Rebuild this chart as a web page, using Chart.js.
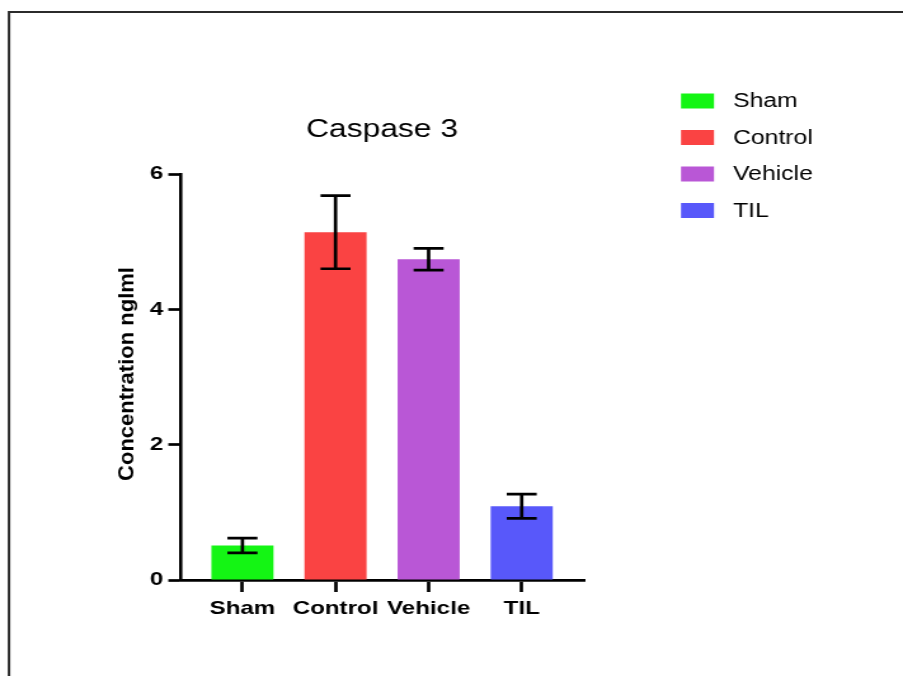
<!DOCTYPE html>
<html>
<head>
<meta charset="utf-8">
<title>Caspase 3</title>
<script src="https://cdn.jsdelivr.net/npm/chart.js@4/dist/chart.umd.min.js"></script>
<style>
  html, body { margin: 0; padding: 0; background: #fff; overflow: hidden; }
  #wrap { width: 903px; height: 676px; position: relative; }
  /* the drawing is laid out on a narrower canvas and shown widened */
  #c { width: 903px; height: 676px; display: block; }
</style>
</head>
<body>
<div id="wrap"><canvas id="c" width="711" height="676" style="width:903px;height:676px"></canvas></div>
<script>
// Caspase 3 concentration per group (mean ± error)
const categories = ['Sham', 'Control', 'Vehicle', 'TIL'];
const means = [0.51, 5.14, 4.74, 1.09];
const errors = [0.11, 0.54, 0.16, 0.18];
const yTicks = [0, 2, 4, 6];
const barColors = ['#14F514', '#FA4343', '#B957D6', '#5858FA'];

const FONT = '"Liberation Sans", Arial, Helvetica, sans-serif';
const S = 903 / 711;          // horizontal widening of the canvas
const sx = (px) => px / S;    // page x -> canvas x

// frame, title, axis title, legend and error bars
const decorations = {
  id: 'decorations',
  beforeDraw(chart) {
    const ctx = chart.ctx;
    ctx.save();
    ctx.strokeStyle = '#2b2b2b';
    ctx.lineWidth = 2;
    ctx.beginPath();
    ctx.moveTo(chart.width, 12);
    ctx.lineTo(sx(9), 12);
    ctx.lineTo(sx(9), chart.height);
    ctx.stroke();
    ctx.restore();
  },
  afterDatasetsDraw(chart) {
    const ctx = chart.ctx;
    const xs = chart.scales.x, ys = chart.scales.y;
    ctx.save();
    ctx.strokeStyle = '#000';
    ctx.lineWidth = 2.7;
    ctx.lineCap = 'butt';
    means.forEach((m, i) => {
      const x = xs.getPixelForValue(i);
      const yt = ys.getPixelForValue(m + errors[i]);
      const yb = ys.getPixelForValue(m - errors[i]);
      const hw = sx(15);
      ctx.beginPath();
      ctx.moveTo(x, yt); ctx.lineTo(x, yb);
      ctx.moveTo(x - hw, yt); ctx.lineTo(x + hw, yt);
      ctx.moveTo(x - hw, yb); ctx.lineTo(x + hw, yb);
      ctx.stroke();
    });
    ctx.restore();
  },
  afterDraw(chart) {
    const ctx = chart.ctx;
    ctx.save();
    // title
    ctx.fillStyle = '#000';
    ctx.font = '25px ' + FONT;
    ctx.textAlign = 'center';
    ctx.textBaseline = 'middle';
    ctx.fillText('Caspase 3', sx(382), 130);
    // y-axis title
    ctx.save();
    ctx.translate(sx(127), 374);
    ctx.scale(1 / S, 1);
    ctx.rotate(-Math.PI / 2);
    ctx.font = 'bold 22px ' + FONT;
    ctx.fillText('Concentration nglml', 0, 0);
    ctx.restore();
    // legend
    ctx.textAlign = 'left';
    ctx.font = '19.5px ' + FONT;
    categories.forEach((name, i) => {
      const cy = 101 + i * 36.5;
      ctx.fillStyle = barColors[i];
      ctx.fillRect(sx(681), cy - 7.5, sx(714) - sx(681), 15);
      ctx.fillStyle = '#000';
      ctx.fillText(name, sx(733), cy + 1);
    });
    ctx.restore();
  }
};

new Chart(document.getElementById('c'), {
  type: 'bar',
  data: {
    datasets: [{
      data: means.map((v, i) => ({ x: i, y: v })),
      backgroundColor: barColors,
      borderWidth: 0,
      barPercentage: 0.667,
      categoryPercentage: 1
    }]
  },
  options: {
    responsive: false,
    animation: false,
    devicePixelRatio: 1,
    layout: { padding: { left: 0, top: 174, right: 711 - sx(585), bottom: 0 } },
    plugins: { legend: { display: false }, title: { display: false }, tooltip: { enabled: false } },
    scales: {
      x: {
        type: 'linear',
        offset: false,
        min: -0.66,
        max: 3.68,
        afterBuildTicks(scale) { scale.ticks = categories.map((_, i) => ({ value: i })); },
        afterFit(scale) { scale.height = 96; },
        ticks: {
          callback: (v) => categories[v],
          color: '#000',
          font: { family: FONT, size: 19, weight: 'bold' },
          padding: 5,
          maxRotation: 0,
          autoSkip: false
        },
        grid: { offset: false, drawOnChartArea: false, drawTicks: true, tickLength: 12, tickColor: '#000', tickWidth: 2.7 },
        border: { display: true, color: '#000', width: 2.8 }
      },
      y: {
        min: 0,
        max: 6,
        afterBuildTicks(scale) { scale.ticks = yTicks.map(v => ({ value: v })); },
        afterFit(scale) { scale.width = sx(181); },
        ticks: {
          color: '#000',
          font: { family: FONT, size: 19, weight: 'bold' },
          padding: 4
        },
        grid: { drawOnChartArea: false, drawTicks: true, tickLength: 10, tickColor: '#000', tickWidth: 2.7 },
        border: { display: true, color: '#000', width: 2.6 }
      }
    }
  },
  plugins: [decorations]
});
</script>
</body>
</html>
